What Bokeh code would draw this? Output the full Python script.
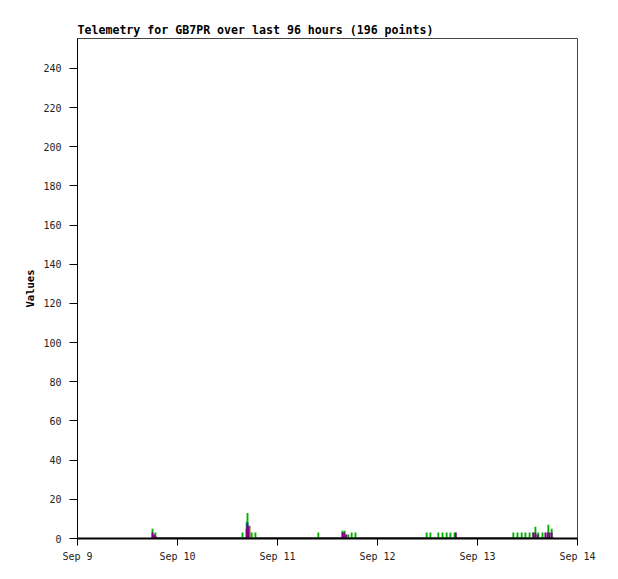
#
# Telemetry chart for GB7PR, last 96 hours
#
from bokeh.plotting import figure
from bokeh.models import FixedTicker, Range1d
from bokeh.embed import file_html
from bokeh.resources import INLINE

# x values are hours since Sep 9 00:00
day_hours = [0, 24, 48, 72, 96, 120]
day_labels = ['Sep 9', 'Sep 10', 'Sep 11', 'Sep 12', 'Sep 13', 'Sep 14']
y_ticks = [0, 20, 40, 60, 80, 100, 120, 140, 160, 180, 200, 220, 240]

# first and last sample of the window (all channels are 0 in between,
# apart from the spikes below)
window_hours = [18.0, 114.3]

# channel 1 (green)
green_hours = [18.0, 18.7, 39.6, 40.6, 40.8, 41.8, 42.7, 57.8, 63.6, 64.1,
               65.0, 65.8, 66.7, 83.8, 84.7, 86.6, 87.6, 88.6, 89.5, 90.5,
               104.6, 105.6, 106.6, 107.5, 108.5, 109.4, 109.9, 110.6,
               111.6, 113.0, 113.8]
green_vals = [5, 3, 3, 8.5, 13, 3, 3, 3, 4, 4,
              2, 3, 3, 3, 3, 3, 3, 3, 3, 3,
              3, 3, 3, 3, 3, 3, 6, 3,
              3, 7, 5]

# channel 2 (blue)
blue_hours = [40.8, 41.0]
blue_vals = [8, 6]

# channel 3 (olive)
olive_hours = [41.3]
olive_vals = [6.5]

# channel 4 (purple)
purple_hours = [18.0, 18.4, 18.8, 40.6, 40.8, 41.0, 63.6, 64.0, 64.5,
                90.8, 109.4, 109.9, 110.4, 112.3, 112.8, 113.3, 113.8]
purple_vals = [3, 2, 1, 5, 7, 6, 3, 3, 2,
               3, 3, 3, 2, 3, 3, 3, 3]

p = figure(width=610, height=571, output_backend="svg", toolbar_location=None,
           title="Telemetry for GB7PR over last 96 hours (196 points)",
           x_range=Range1d(0, 120), y_range=Range1d(0, 255.3),
           min_border_left=77, min_border_right=33, min_border_top=38,
           min_border_bottom=33)

p.title.text_font = "DejaVu Sans Mono"
p.title.text_font_size = "11.6px"
p.title.text_font_style = "bold"
p.title.text_color = 'black'
p.title.align = "left"
p.title.offset = 0
p.title.standoff = 3

p.outline_line_color = "#444444"
p.outline_line_width = 1
p.xgrid.visible = False
p.ygrid.visible = False

# Bars for every non-zero sample, half an hour wide
bar_w = 0.45
p.line(window_hours, [0, 0], line_color='black', line_width=2)
p.vbar(x=green_hours, top=green_vals, bottom=0, width=bar_w,
       fill_color='#00b000', line_color=None)
p.vbar(x=blue_hours, top=blue_vals, bottom=0, width=bar_w,
       fill_color='#1030e0', line_color=None)
p.vbar(x=olive_hours, top=olive_vals, bottom=0, width=bar_w,
       fill_color='#8a7020', line_color=None)
p.vbar(x=purple_hours, top=purple_vals, bottom=0, width=bar_w,
       fill_color='#800080', line_color=None)

# Axes
p.xaxis.ticker = FixedTicker(ticks=day_hours)
p.xaxis.major_label_overrides = {h: lab for h, lab in zip(day_hours, day_labels)}
p.yaxis.ticker = FixedTicker(ticks=y_ticks)
p.yaxis.axis_label = "Values"

for ax in (p.xaxis, p.yaxis):
    ax.minor_tick_line_color = None
    ax.major_tick_in = 0
    ax.major_tick_out = 8
    ax.major_tick_line_color = 'black'
    ax.axis_line_color = 'black'
    ax.major_label_text_font = "DejaVu Sans Mono"
    ax.major_label_text_font_size = "10px"
    ax.major_label_text_color = '#222222'
    ax.axis_label_text_font = "DejaVu Sans Mono"
    ax.axis_label_text_font_size = "10.5px"
    ax.axis_label_text_font_style = "bold"
    ax.axis_label_text_color = 'black'

p.xaxis.axis_line_width = 2
p.xaxis.major_tick_out = 7
p.xaxis.major_label_standoff = 5
p.yaxis.major_label_standoff = 8
p.yaxis.axis_label_standoff = 4

open("out.html", "w").write(file_html(p, INLINE))
